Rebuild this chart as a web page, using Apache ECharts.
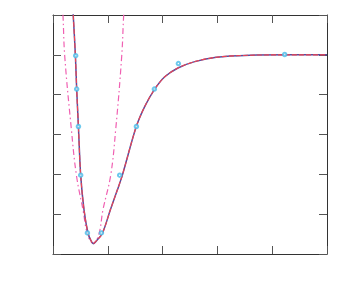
<!DOCTYPE html>
<html><head><meta charset="utf-8">
<script src="https://cdn.jsdelivr.net/npm/echarts@6/dist/echarts.min.js"></script>
<style>html,body{margin:0;padding:0;background:#fff}#c{width:349px;height:300px}</style>
</head><body><div id="c"></div>
<script>
// Potential curve (fit)
const curveX = [0.35, 0.369, 0.409, 0.432, 0.464, 0.505, 0.566, 0.639, 0.688, 0.734, 0.779, 0.901, 1.047, 1.175, 1.266, 1.515, 1.673, 1.856, 2.04, 2.28, 2.586, 2.98, 3.59, 4.32, 5.0];
const curveY = [6.35, 6.00, 4.97, 4.14, 3.19, 1.98, 1.11, 0.52, 0.35, 0.26, 0.31, 0.52, 1.11, 1.61, 1.98, 3.18, 3.70, 4.14, 4.45, 4.67, 4.83, 4.94, 4.99, 5.00, 5.00];
// Harmonic approximation (dash-dot)
const harmX = [0.165, 0.182, 0.214, 0.336, 0.427, 0.547, 0.633, 0.734, 0.834, 0.912, 1.053, 1.144, 1.254, 1.290, 1.31];
const harmY = [6.35, 6.00, 4.97, 3.12, 1.98, 1.11, 0.48, 0.27, 0.48, 1.11, 1.98, 3.12, 4.97, 6.00, 6.35];
// Data points
const ptsX = [0.414, 0.432, 0.464, 0.505, 0.628, 0.883, 1.217, 1.522, 1.850, 2.288, 4.228];
const ptsY = [4.98, 4.14, 3.20, 1.98, 0.53, 0.53, 1.98, 3.20, 4.14, 4.78, 5.01];

const zip = (a, b) => a.map((v, i) => [v, b[i]]);
const tick = {show: true, inside: true, length: 8, lineStyle: {color: '#555', width: 1}};
const axLine = {show: true, onZero: false, lineStyle: {color: '#333', width: 1}};
const chart = echarts.init(document.getElementById('c'), null, {renderer: 'canvas'});
chart.setOption({
  animation: false,
  backgroundColor: '#fff',
  grid: {left: 53, top: 15, right: 22, bottom: 46, containLabel: false},
  xAxis: [
    {type: 'value', min: 0, max: 5, interval: 1, position: 'bottom', axisLine: axLine, axisTick: tick, axisLabel: {show: false}, splitLine: {show: false}},
    {type: 'value', min: 0, max: 5, interval: 1, position: 'top', axisLine: axLine, axisTick: tick, axisLabel: {show: false}, splitLine: {show: false}}
  ],
  yAxis: [
    {type: 'value', min: 0, max: 6, interval: 1, position: 'left', axisLine: axLine, axisTick: tick, axisLabel: {show: false}, splitLine: {show: false}},
    {type: 'value', min: 0, max: 6, interval: 1, position: 'right', axisLine: axLine, axisTick: tick, axisLabel: {show: false}, splitLine: {show: false}}
  ],
  series: [
    {type: 'line', data: zip(harmX, harmY), smooth: 0.4, showSymbol: false, clip: true,
     lineStyle: {color: '#f060b2', width: 1.2, type: [6, 3, 1.5, 3]}, z: 1},
    {type: 'line', data: zip(curveX, curveY), smooth: 0.3, showSymbol: false, clip: true,
     lineStyle: {color: '#5a4c9c', width: 1.5}, z: 2},
    {type: 'line', data: zip(curveX, curveY), smooth: 0.3, showSymbol: false, clip: true,
     lineStyle: {color: '#f04450', width: 1.1, type: [5, 2]}, z: 3},
    {type: 'scatter', data: zip(ptsX, ptsY), symbol: 'emptyCircle', symbolSize: 3.5,
     itemStyle: {color: '#48bce8', borderColor: '#48bce8', borderWidth: 1}, z: 4}
  ]
});
</script></body></html>
